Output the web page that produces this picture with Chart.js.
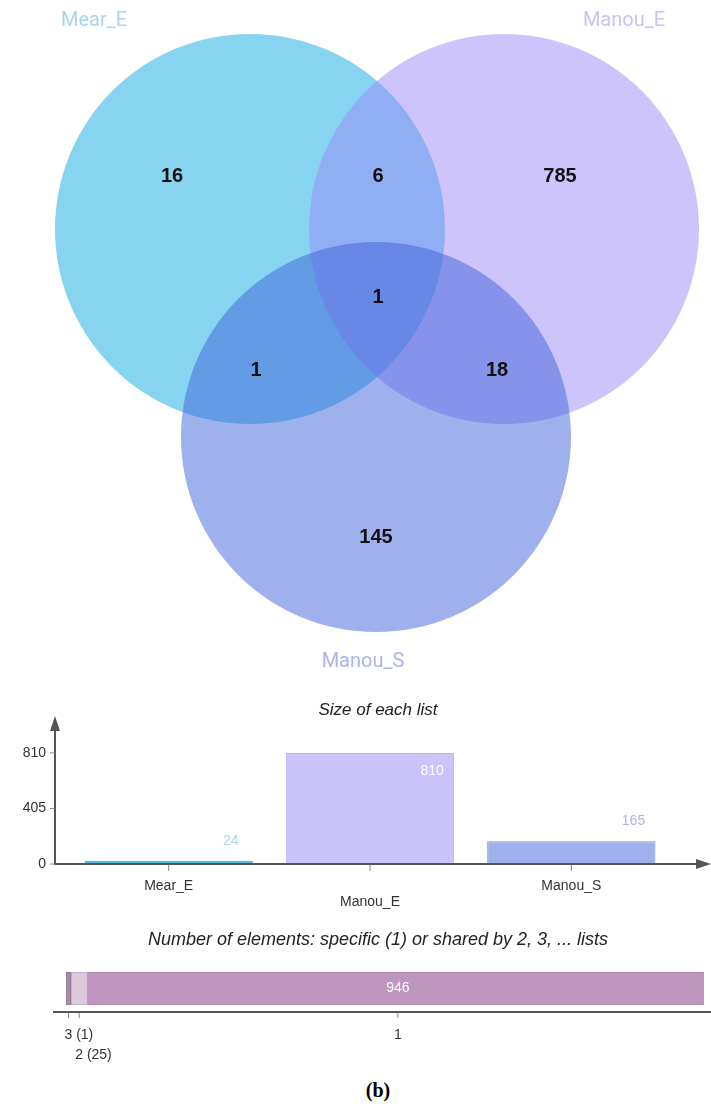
<!DOCTYPE html>
<html>
<head>
<meta charset="utf-8">
<title>Mear_E / Manou_E / Manou_S</title>
<script src="https://cdn.jsdelivr.net/npm/chart.js@4.4.1/dist/chart.umd.min.js"></script>
<style>
  body { margin: 0; background: #fff; }
  #page { position: relative; width: 711px; height: 1106px; overflow: hidden; }
  .box { position: absolute; left: 0; width: 711px; }
  #vennBox { top: 0; height: 680px; }
  #sizeBox { top: 680px; height: 235px; }
  #sharedBox { top: 915px; height: 150px; }
  #caption { position: absolute; top: 1079px; left: 0; width: 756px; text-align: center;
             font: bold 20px "Liberation Serif", "DejaVu Serif", serif; color: #000; }
</style>
</head>
<body>
<div id="page">
  <div class="box" id="vennBox"><canvas id="venn"></canvas></div>
  <div class="box" id="sizeBox"><canvas id="sizes"></canvas></div>
  <div class="box" id="sharedBox"><canvas id="shared"></canvas></div>
  <div id="caption">(b)</div>
</div>
<script>
Chart.defaults.font.family = '"Liberation Sans", Arial, sans-serif';
Chart.defaults.animation = false;

// the three lists and the counts of each Venn region
const setNames = ['Mear_E', 'Manou_E', 'Manou_S'];
const regionNames = ['Mear_E only', 'Manou_E only', 'Manou_S only',
  'Mear_E & Manou_E', 'Mear_E & Manou_S', 'Manou_E & Manou_S', 'all three'];
const regionCounts = [16, 785, 145, 6, 1, 18, 1];

// size of each list
const listSizes = [24, 810, 165];
const sizeTicks = [0, 405, 810];

// elements specific to one list or shared by 2, 3 lists
const sharedLabels = ['3 (1)', '2 (25)', '1'];
const sharedCounts = [1, 25, 946];

// colours
const setFill = ['rgba(15,169,225,0.5)', 'rgba(153,137,247,0.5)', 'rgba(63,99,217,0.5)'];
const setText = ['#a6d6ec', '#c9c3f2', '#a9b4e8'];
const barFill = ['#4fb9df', '#cbc3fb', '#9fb1ec'];
const barLine = ['#2f9cc4', '#b8aef3', '#7f93dd'];
const barText = ['#a6d6ec', '#ffffff', '#a9b4e8'];
const sharedFill = ['#a58ea6', '#dccadc', '#bf96c0'];
const sharedLine = ['#8c778d', '#c0a8c0', '#a883a9'];

// Venn drawing space (one unit = one pixel)
const venn = {
  width: 711, height: 680,
  centers: [[250, 229], [504, 229], [376, 437]],
  radius: 195,
  regionAt: [[172, 176], [560, 176], [376, 537], [378, 176], [256, 370], [497, 370], [378, 297]],
  nameAt: [[94, 21], [624, 21], [363, 662]]
};

const vennText = {
  id: 'vennText',
  afterDatasetsDraw(chart) {
    const { ctx, scales: { x, y } } = chart;
    ctx.save();
    ctx.textAlign = 'center';
    ctx.textBaseline = 'middle';
    ctx.fillStyle = '#111';
    ctx.font = 'bold 20px "Liberation Sans", Arial, sans-serif';
    regionCounts.forEach((n, i) => {
      const [px, py] = venn.regionAt[i];
      ctx.fillText(String(n), x.getPixelForValue(px), y.getPixelForValue(py));
    });
    ctx.font = '20px Roboto, "Liberation Sans", sans-serif';
    setNames.forEach((name, i) => {
      const [px, py] = venn.nameAt[i];
      ctx.fillStyle = setText[i];
      ctx.fillText(name, x.getPixelForValue(px), y.getPixelForValue(py));
    });
    ctx.restore();
  }
};

const circleRadius = ctx => {
  const s = ctx.chart.scales.x;
  return s.getPixelForValue(venn.radius) - s.getPixelForValue(0);
};

new Chart(document.getElementById('venn'), {
  type: 'scatter',
  data: {
    datasets: [{
      data: venn.centers.map(([cx, cy]) => ({ x: cx, y: cy })),
      pointBackgroundColor: setFill,
      pointBorderWidth: 0,
      pointRadius: circleRadius,
      pointHoverRadius: circleRadius,
      clip: false
    }]
  },
  options: {
    responsive: true,
    maintainAspectRatio: false,
    events: [],
    layout: { padding: 0 },
    plugins: { legend: { display: false }, tooltip: { enabled: false } },
    scales: {
      x: { type: 'linear', display: false, min: 0, max: venn.width },
      y: { type: 'linear', display: false, min: 0, max: venn.height, reverse: true }
    }
  },
  plugins: [vennText]
});

// small helpers for the hand drawn axes
function arrowHead(ctx, tipX, tipY, dir) {
  ctx.beginPath();
  if (dir === 'up') {
    ctx.moveTo(tipX, tipY);
    ctx.lineTo(tipX - 5, tipY + 15);
    ctx.lineTo(tipX + 5, tipY + 15);
  } else {
    ctx.moveTo(tipX, tipY);
    ctx.lineTo(tipX - 15, tipY - 5);
    ctx.lineTo(tipX - 15, tipY + 5);
  }
  ctx.closePath();
  ctx.fill();
}

const sizeAxes = {
  id: 'sizeAxes',
  afterDraw(chart) {
    const { ctx, chartArea: a, scales: { x, y } } = chart;
    const axisX = a.left - 13;
    const y0 = y.getPixelForValue(0);
    ctx.save();

    // title
    ctx.fillStyle = '#222';
    ctx.font = 'italic 17px "Liberation Sans", Arial, sans-serif';
    ctx.textAlign = 'center';
    ctx.textBaseline = 'middle';
    ctx.fillText('Size of each list', 378, 30);

    // axes
    ctx.strokeStyle = '#555';
    ctx.fillStyle = '#555';
    ctx.lineWidth = 2;
    ctx.beginPath();
    ctx.moveTo(axisX, y0 + 1);
    ctx.lineTo(axisX, a.top + 6);
    ctx.moveTo(axisX - 1, y0);
    ctx.lineTo(chart.width - 8, y0);
    ctx.stroke();
    arrowHead(ctx, axisX, a.top - 4, 'up');
    arrowHead(ctx, chart.width, y0, 'right');

    // y ticks
    ctx.font = '14px "Liberation Sans", Arial, sans-serif';
    ctx.textAlign = 'right';
    ctx.lineWidth = 1;
    ctx.strokeStyle = '#888';
    sizeTicks.forEach(v => {
      const py = y.getPixelForValue(v);
      ctx.beginPath();
      ctx.moveTo(axisX - 5, py);
      ctx.lineTo(axisX, py);
      ctx.stroke();
      ctx.fillStyle = '#333';
      ctx.fillText(String(v), axisX - 9, py);
    });

    // category ticks, middle label dropped to a second row
    ctx.textAlign = 'center';
    setNames.forEach((name, i) => {
      const px = x.getPixelForValue(i);
      ctx.beginPath();
      ctx.moveTo(px, y0 + 1);
      ctx.lineTo(px, y0 + 7);
      ctx.stroke();
      ctx.fillText(name, px, y0 + (i % 2 ? 38 : 22));
    });

    // value labels near the right end of each bar
    const bars = chart.getDatasetMeta(0).data;
    bars.forEach((bar, i) => {
      const { x: bx, y: by, width } = bar.getProps(['x', 'y', 'width'], true);
      const lx = bx + width / 2 - 22;
      const inside = by - 30 < a.top + 10;
      ctx.fillStyle = barText[i];
      ctx.fillText(String(listSizes[i]), lx, inside ? by + 18 : by - 20);
    });
    ctx.restore();
  }
};

new Chart(document.getElementById('sizes'), {
  type: 'bar',
  data: {
    labels: setNames,
    datasets: [{
      data: listSizes,
      backgroundColor: barFill,
      borderColor: barLine,
      borderWidth: 1,
      borderSkipped: false,
      barPercentage: 0.836,
      categoryPercentage: 1
    }]
  },
  options: {
    responsive: true,
    maintainAspectRatio: false,
    events: [],
    layout: { padding: { left: 68, right: 39, top: 40, bottom: 51 } },
    plugins: { legend: { display: false }, tooltip: { enabled: false } },
    scales: {
      x: { display: false },
      y: { display: false, min: 0, max: 1050 }
    }
  },
  plugins: [sizeAxes]
});

const sharedAxis = {
  id: 'sharedAxis',
  afterDraw(chart) {
    const { ctx, chartArea: a } = chart;
    const axisY = a.bottom + 7;
    ctx.save();

    ctx.fillStyle = '#222';
    ctx.font = 'italic 18px "Liberation Sans", Arial, sans-serif';
    ctx.textAlign = 'center';
    ctx.textBaseline = 'middle';
    ctx.fillText('Number of elements: specific (1) or shared by 2, 3, ... lists', 378, 25);

    ctx.strokeStyle = '#555';
    ctx.lineWidth = 2;
    ctx.beginPath();
    ctx.moveTo(a.left - 13, axisY);
    ctx.lineTo(chart.width, axisY);
    ctx.stroke();

    ctx.font = '14px "Liberation Sans", Arial, sans-serif';
    ctx.lineWidth = 1;
    ctx.strokeStyle = '#888';
    sharedCounts.forEach((n, i) => {
      const seg = chart.getDatasetMeta(i).data[0];
      const { x: ex, y: ey, base } = seg.getProps(['x', 'y', 'base'], true);
      const mid = (ex + base) / 2;
      const segW = Math.abs(ex - base);

      ctx.beginPath();
      ctx.moveTo(mid, axisY + 1);
      ctx.lineTo(mid, axisY + 6);
      ctx.stroke();

      const label = sharedLabels[i];
      const tw = ctx.measureText(label).width;
      const row = i % 2 ? 43 : 23;
      ctx.fillStyle = '#333';
      if (segW < tw) {
        ctx.textAlign = 'left';
        ctx.fillText(label, mid - 4, axisY + row);
      } else {
        ctx.textAlign = 'center';
        ctx.fillText(label, mid, axisY + row);
      }

      // count written inside segments wide enough to hold it
      if (segW > 40) {
        ctx.textAlign = 'center';
        ctx.fillStyle = '#fff';
        ctx.fillText(String(n), mid, ey);
      }
    });
    ctx.restore();
  }
};

new Chart(document.getElementById('shared'), {
  type: 'bar',
  data: {
    labels: [''],
    datasets: sharedCounts.map((n, i) => ({
      label: sharedLabels[i],
      data: [n],
      backgroundColor: sharedFill[i],
      borderColor: sharedLine[i],
      borderWidth: 1,
      borderSkipped: false,
      minBarLength: i === 0 ? 5 : 0,
      barPercentage: 1,
      categoryPercentage: 1
    }))
  },
  options: {
    indexAxis: 'y',
    responsive: true,
    maintainAspectRatio: false,
    events: [],
    layout: { padding: { left: 66, right: 7, top: 57, bottom: 60 } },
    plugins: { legend: { display: false }, tooltip: { enabled: false } },
    scales: {
      x: { stacked: true, display: false, min: 0, max: sharedCounts.reduce((s, v) => s + v, 0) },
      y: { stacked: true, display: false }
    }
  },
  plugins: [sharedAxis]
});
</script>
</body>
</html>
